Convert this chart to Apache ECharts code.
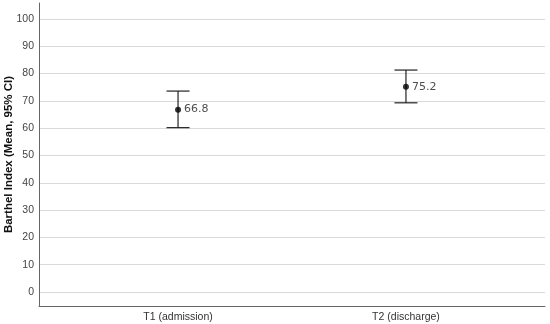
<!doctype html>
<html>
<head>
    <meta charset="utf-8">
    <script type="text/javascript" src="https://cdn.jsdelivr.net/npm/echarts@6/dist/echarts.min.js"></script>
    <style>
        html, body { margin: 0; padding: 0; background: #fff; }
        #main { width: 550px; height: 324px; }
    </style>
</head>
<body>
<div id="main"></div>
<script type="text/javascript">
    // data
    var categories = ['T1 (admission)', 'T2 (discharge)'];
    var positions = [1, 2];
    var means = [66.8, 75.2];
    var lower = [60.2, 69.3];
    var upper = [73.6, 81.3];

    var font = 'Liberation Sans, Arial, sans-serif';

    var pointData = positions.map(function (p, i) { return [p, means[i]]; });
    var barData = positions.map(function (p, i) { return [p, lower[i], upper[i]]; });

    var myChart = echarts.init(document.getElementById('main'));
    var option = {
        animation: false,
        grid: [
            // frame grid (axis lines)
            {left: 39, right: 5, top: 3, bottom: 18, containLabel: false, outerBoundsMode: 'none'},
            // value grid (0..100)
            {left: 39, right: 5, top: 19, bottom: 32, containLabel: false, outerBoundsMode: 'none'}
        ],
        xAxis: [
            {
                gridIndex: 0, type: 'value', min: 0.39, max: 2.61,
                axisLine: {show: true, onZero: false, lineStyle: {color: '#666', width: 1}},
                axisTick: {show: false},
                splitLine: {show: false},
                axisLabel: {
                    customValues: positions,
                    margin: 6,
                    color: '#333',
                    fontSize: 10.5,
                    fontFamily: font,
                    formatter: function (v) {
                        var i = positions.indexOf(v);
                        return i >= 0 ? categories[i] : '';
                    }
                }
            },
            {
                gridIndex: 1, type: 'value', min: 0.39, max: 2.61, show: false
            }
        ],
        yAxis: [
            {
                gridIndex: 0, type: 'value', min: -5, max: 106,
                axisLine: {show: true, onZero: false, lineStyle: {color: '#666', width: 1}},
                axisTick: {show: false},
                splitLine: {show: false},
                axisLabel: {show: false},
                name: 'Barthel Index (Mean, 95% CI)',
                nameLocation: 'middle',
                nameGap: 24,
                nameTextStyle: {fontSize: 11.5, fontWeight: 'bold', color: '#111', fontFamily: font}
            },
            {
                gridIndex: 1, type: 'value', min: 0, max: 100, interval: 10,
                axisLine: {show: false},
                axisTick: {show: false},
                splitLine: {show: true, lineStyle: {color: '#d9d9d9', width: 1}},
                axisLabel: {color: '#444', fontSize: 10.5, fontFamily: font, margin: 5}
            }
        ],
        series: [
            {
                type: 'custom',
                xAxisIndex: 1,
                yAxisIndex: 1,
                data: barData,
                renderItem: function (params, api) {
                    var x = api.value(0);
                    var lo = api.coord([x, api.value(1)]);
                    var hi = api.coord([x, api.value(2)]);
                    var half = 11.5;
                    var style = {stroke: '#222', lineWidth: 1.2};
                    return {
                        type: 'group',
                        children: [
                            {type: 'line', shape: {x1: lo[0], y1: lo[1], x2: hi[0], y2: hi[1]}, style: style},
                            {type: 'line', shape: {x1: lo[0] - half, y1: lo[1], x2: lo[0] + half, y2: lo[1]}, style: style},
                            {type: 'line', shape: {x1: hi[0] - half, y1: hi[1], x2: hi[0] + half, y2: hi[1]}, style: style}
                        ]
                    };
                },
                z: 2
            },
            {
                type: 'scatter',
                xAxisIndex: 1,
                yAxisIndex: 1,
                data: pointData,
                symbolSize: 6,
                itemStyle: {color: '#000'},
                label: {
                    show: true,
                    position: 'right',
                    distance: 3,
                    color: '#222',
                    fontSize: 11,
                    fontFamily: 'DejaVu Sans, sans-serif',
                    formatter: function (p) { return p.value[1].toFixed(1); }
                },
                z: 3
            }
        ]
    };
    option && myChart.setOption(option);
</script>
</body>
</html>
